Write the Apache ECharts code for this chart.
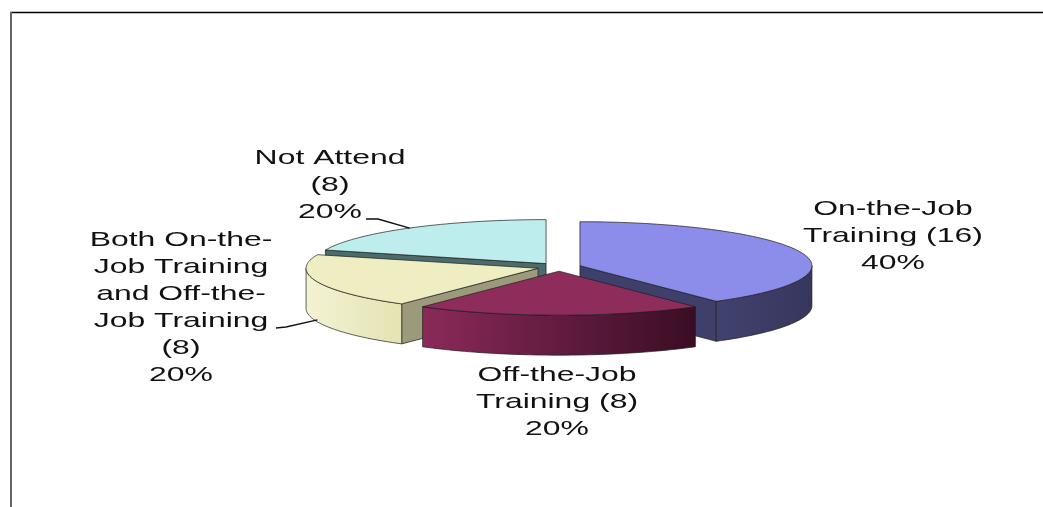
<!DOCTYPE html>
<html><head><meta charset="utf-8">
<script src="https://cdn.jsdelivr.net/npm/echarts/dist/echarts.min.js"></script>
<style>html,body{margin:0;padding:0;background:#fff}#c{width:1043px;height:507px}</style>
</head><body><div id="c"></div>
<script>
// ---- data ----
const categories = ['On-the-Job Training', 'Off-the-Job Training', 'Both On-the-Job Training and Off-the-Job Training', 'Not Attend'];
const values = [16, 8, 8, 8];
const labelNames = ['On-the-Job\nTraining', 'Off-the-Job\nTraining', 'Both On-the-\nJob Training\nand Off-the-\nJob Training', 'Not Attend'];

// ---- layout / style ----
const valueSep = [' ', ' ', '\n', '\n'];
const G = {cx: 559, cy: 267, rx: 232, ry: 44, depth: 40, explode: 22};
const topColors = ['#8C8CEA', '#8E2C5C', '#EEEEC2', '#BDEDED'];
const sideL = ['#42426F', '#8A2A59', '#F3F3D4', '#5A7C7C'];
const sideR = ['#36365D', '#3A0D24', '#E3E3B3', '#4A6A6A'];
const wallColors = ['#3F3F6B', '#5E1D3D', '#9B9B7B', '#4C6C6C'];
const labelPos = [[893, 236], [557, 402], [181, 308], [330, 185]];
const leaderStart = [null, null, [[276, 328], [286, 327]], [[366, 219], [378, 219]]];
const leaderDepth = [0, 0, 0.95, 0];

const total = values.reduce((a, b) => a + b, 0);
const starts = [];
let acc = 0;
values.forEach(v => { starts.push(acc / total * 360); acc += v; });
const D = Math.PI / 180;
function pt(ox, oy, th) { return [ox + G.rx * Math.sin(th * D), oy - G.ry * Math.cos(th * D)]; }
function arc(ox, oy, a, b, dy) {
  const n = Math.max(2, Math.ceil(Math.abs(b - a) / 1.5));
  const r = [];
  for (let k = 0; k <= n; k++) { const p = pt(ox, oy, a + (b - a) * k / n); r.push([p[0], p[1] + (dy || 0)]); }
  return r;
}
const stroke = '#1c1c1c';

function renderItem(params, api) {
  const i = params.dataIndex;
  const v = api.value(0);
  const a1 = starts[i], a2 = a1 + v / total * 360, mid = (a1 + a2) / 2;
  const ox = G.cx + G.explode * Math.sin(mid * D);
  const oy = G.cy - G.explode * (G.ry / G.rx) * Math.cos(mid * D);
  const dep = G.depth;
  const zSide = 5 - Math.cos(mid * D) * 3;
  const children = [];
  // radial walls
  const walls = [];
  if (Math.sin(a1 * D) < -1e-6) walls.push(a1);
  if (Math.sin(a2 * D) > 1e-6) walls.push(a2);
  walls.forEach(th => {
    const p = pt(ox, oy, th);
    children.push({type: 'polygon', z2: zSide,
      shape: {points: [[ox, oy], p, [p[0], p[1] + dep], [ox, oy + dep]]},
      style: {fill: wallColors[i], stroke: stroke, lineWidth: 0.7}});
  });
  // curved outer wall (front half only)
  const lo = Math.max(a1, 90), hi = Math.min(a2, 270);
  if (hi > lo) {
    const topArc = arc(ox, oy, lo, hi, 0);
    const botArc = arc(ox, oy, hi, lo, dep);
    children.push({type: 'polygon', z2: zSide + 0.1,
      shape: {points: topArc.concat(botArc)},
      style: {fill: new echarts.graphic.LinearGradient(0, 0, 1, 0, [
        {offset: 0, color: hi > 180 ? sideL[i] : sideL[i]},
        {offset: 1, color: sideR[i]}]), stroke: stroke, lineWidth: 0.7}});
  }
  // top face
  children.push({type: 'polygon', z2: 20,
    shape: {points: [[ox, oy]].concat(arc(ox, oy, a1, a2, 0))},
    style: {fill: topColors[i], stroke: stroke, lineWidth: 0.7}});
  // leader line
  if (leaderStart[i]) {
    const r = pt(ox, oy, mid);
    children.push({type: 'polyline', z2: 25,
      shape: {points: leaderStart[i].concat([[r[0], r[1] + leaderDepth[i] * dep]])},
      style: {stroke: '#111', lineWidth: 1.3, fill: null}});
  }
  // label
  const pct = Math.round(v / total * 100);
  const txt = labelNames[i] + valueSep[i] + '(' + v + ')\n' + pct + '%';
  children.push({type: 'text', z2: 30, x: labelPos[i][0], y: labelPos[i][1], scaleX: 1.52, scaleY: 1,
    style: {text: txt, x: 0, y: 0, fill: '#111', fontSize: 21, fontFamily: 'Liberation Sans, Arial, sans-serif',
      align: 'center', verticalAlign: 'middle', textAlign: 'center', textVerticalAlign: 'middle', lineHeight: 27}});
  return {type: 'group', children: children};
}

const chart = echarts.init(document.getElementById('c'), null, {renderer: 'canvas'});
chart.setOption({
  animation: false,
  backgroundColor: '#fff',
  graphic: [
    {type: 'line', shape: {x1: 10, y1: 12.5, x2: 1043, y2: 12.5}, style: {stroke: '#000', lineWidth: 1.6}},
    {type: 'line', shape: {x1: 11, y1: 12, x2: 11, y2: 507}, style: {stroke: '#666', lineWidth: 2}}
  ],
  series: [{
    type: 'custom',
    coordinateSystem: 'none',
    name: 'Training',
    renderItem: renderItem,
    data: values.map((v, k) => ({name: categories[k], value: [v]}))
  }]
});
</script>
</body></html>
